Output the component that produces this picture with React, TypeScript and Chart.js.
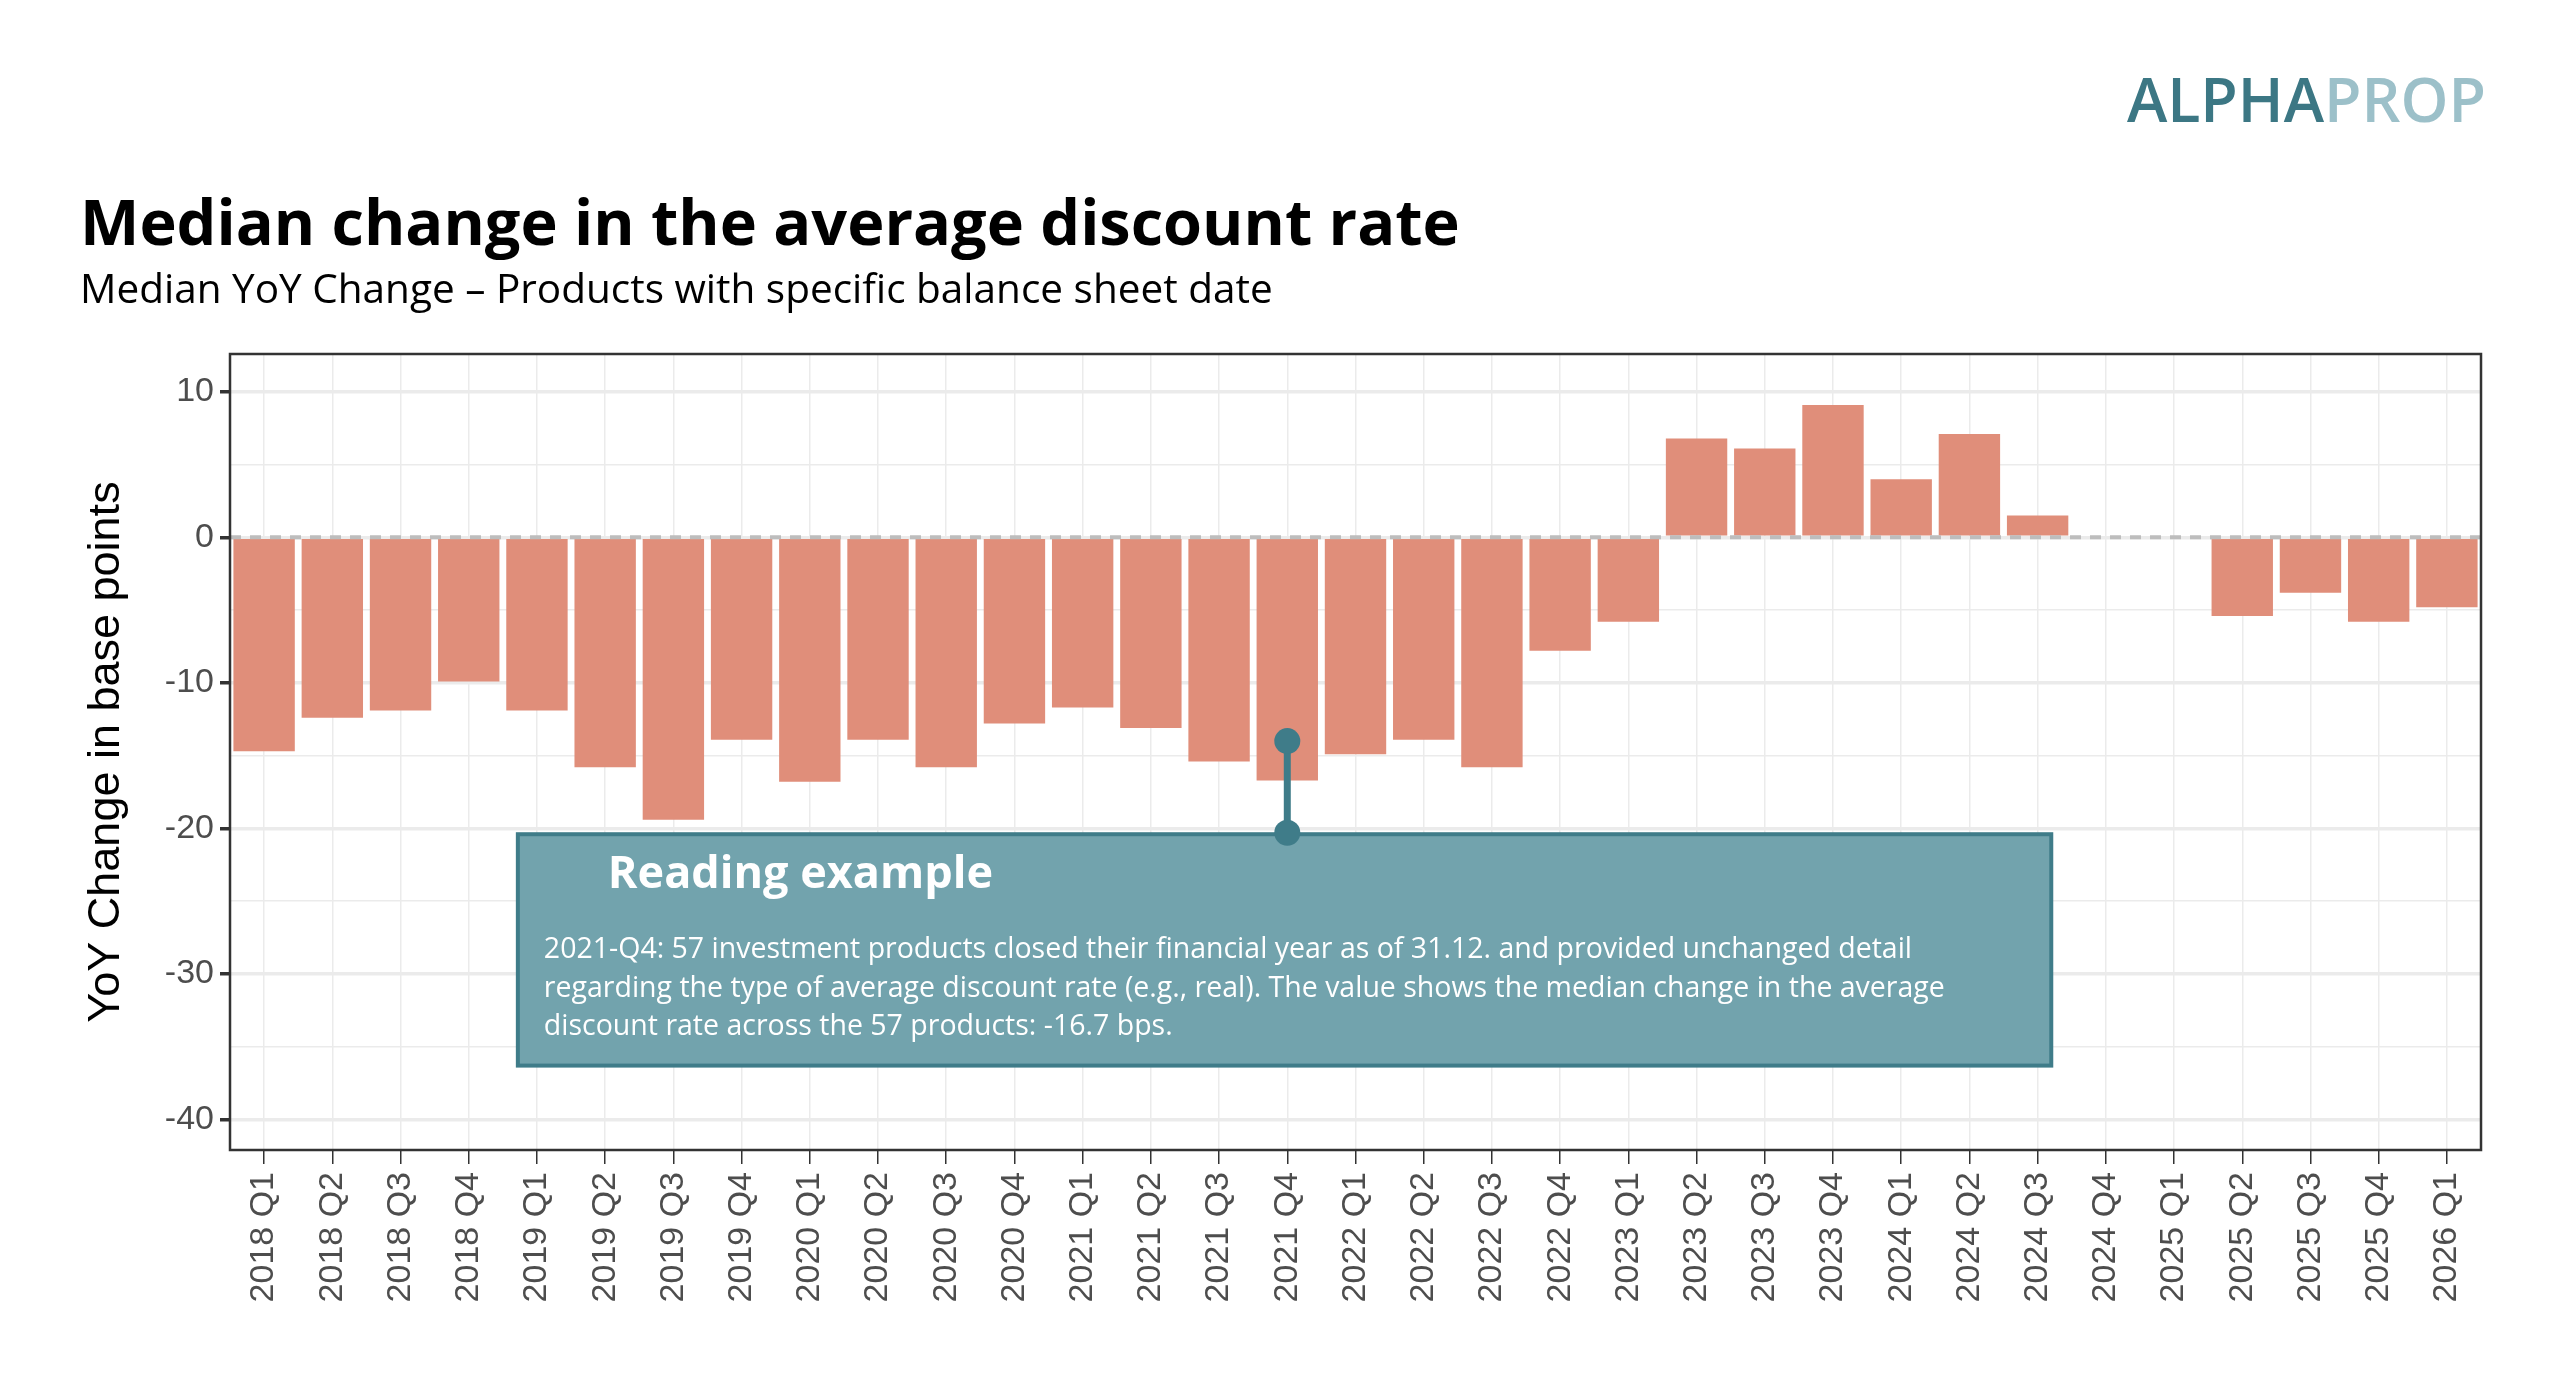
import React, { useEffect, useRef } from "react";
import { Chart, registerables } from "chart.js";
Chart.register(...registerables);

const categories = ["2018 Q1","2018 Q2","2018 Q3","2018 Q4","2019 Q1","2019 Q2","2019 Q3","2019 Q4","2020 Q1","2020 Q2","2020 Q3","2020 Q4","2021 Q1","2021 Q2","2021 Q3","2021 Q4","2022 Q1","2022 Q2","2022 Q3","2022 Q4","2023 Q1","2023 Q2","2023 Q3","2023 Q4","2024 Q1","2024 Q2","2024 Q3","2024 Q4","2025 Q1","2025 Q2","2025 Q3","2025 Q4","2026 Q1"];
const values: (number | null)[] = [-14.7,-12.4,-11.9,-9.9,-11.9,-15.8,-19.4,-13.9,-16.8,-13.9,-15.8,-12.8,-11.7,-13.1,-15.4,-16.7,-14.9,-13.9,-15.8,-7.8,-5.8,6.8,6.1,9.1,4.0,7.1,1.5,null,null,-5.4,-3.8,-5.8,-4.8];
const yTicks = [10, 0, -10, -20, -30, -40];
const titleText = "Median change in the average discount rate";
const subtitleText = "Median YoY Change \u2013 Products with specific balance sheet date";
const yTitle = "YoY Change in base points";
const exampleIndex = 15;
const exampleStem = [-14, -20.3];
const boxRange = { x0: 3.72, x1: 26.2, y0: -20.4, y1: -36.3 };
const boxTitle = "Reading example";
const boxLines = [
  "2021-Q4: 57 investment products closed their financial year as of 31.12. and provided unchanged detail",
  "regarding the type of average discount rate (e.g., real). The value shows the median change in the average",
  "discount rate across the 57 products: -16.7 bps.",
];

const overlay = {
  id: "overlay",
  afterDatasetsDraw(chart: any) {
    const { ctx, chartArea: a, scales } = chart;
    const x = scales.x, y = scales.y;
    ctx.save();
    const y0 = y.getPixelForValue(0);
    ctx.strokeStyle = "#bdbdbd"; ctx.lineWidth = 4; ctx.setLineDash([11, 9]);
    ctx.beginPath(); ctx.moveTo(a.left, y0); ctx.lineTo(a.right, y0); ctx.stroke();
    ctx.setLineDash([]);
    const bx0 = x.getPixelForValue(boxRange.x0), bx1 = x.getPixelForValue(boxRange.x1);
    const by0 = y.getPixelForValue(boxRange.y0), by1 = y.getPixelForValue(boxRange.y1);
    ctx.fillStyle = "#72a3ad"; ctx.fillRect(bx0, by0, bx1 - bx0, by1 - by0);
    ctx.strokeStyle = "#3f7c89"; ctx.lineWidth = 4; ctx.strokeRect(bx0, by0, bx1 - bx0, by1 - by0);
    ctx.fillStyle = "#ffffff"; ctx.textBaseline = "middle"; ctx.textAlign = "left";
    ctx.font = "bold 45px 'Open Sans'";
    ctx.fillText(boxTitle, bx0 + 90, by0 + 41);
    ctx.font = "28.5px 'Open Sans'";
    boxLines.forEach((l, i) => ctx.fillText(l, bx0 + 26, by0 + 116 + i * 38.5));
    const sx = x.getPixelForValue(exampleIndex);
    const s0 = y.getPixelForValue(exampleStem[0]), s1 = y.getPixelForValue(exampleStem[1]);
    ctx.strokeStyle = "#3f7c89"; ctx.lineWidth = 7;
    ctx.beginPath(); ctx.moveTo(sx, s0); ctx.lineTo(sx, s1); ctx.stroke();
    ctx.fillStyle = "#3f7c89";
    [s0, s1].forEach((p) => { ctx.beginPath(); ctx.arc(sx, p, 13, 0, Math.PI * 2); ctx.fill(); });
    ctx.strokeStyle = "#333333"; ctx.lineWidth = 2.5;
    ctx.strokeRect(a.left, a.top, a.right - a.left, a.bottom - a.top);
    ctx.fillStyle = "#000"; ctx.textBaseline = "alphabetic";
    ctx.font = "bold 63px 'Open Sans'"; ctx.fillText(titleText, 80, 245);
    ctx.font = "40.5px 'Open Sans'"; ctx.fillText(subtitleText, 80, 303);
    ctx.font = "600 61px 'Open Sans'";
    const w1 = ctx.measureText("ALPHA").width, w2 = ctx.measureText("PROP").width;
    const lx = 2486 - w1 - w2;
    ctx.fillStyle = "#3c7784"; ctx.fillText("ALPHA", lx, 122);
    ctx.fillStyle = "#9cc0c9"; ctx.fillText("PROP", lx + w1, 122);
    ctx.translate(107, (a.top + a.bottom) / 2); ctx.rotate(-Math.PI / 2);
    ctx.textAlign = "center"; ctx.textBaseline = "middle"; ctx.fillStyle = "#000";
    ctx.font = "45px 'Liberation Sans'"; ctx.fillText(yTitle, 0, 0);
    ctx.restore();
  },
};

export default function App() {
  const ref = useRef<HTMLCanvasElement>(null);
  useEffect(() => {
    document.body.style.margin = "0";
    const chart = new Chart(ref.current!, {
      type: "bar",
      data: { labels: categories, datasets: [{ data: values as any, backgroundColor: "#e08e7a", categoryPercentage: 1, barPercentage: 0.9 }] },
      options: {
        animation: false, responsive: false, devicePixelRatio: 1,
        layout: { padding: { left: 0, top: 354, right: 79, bottom: 0 } },
        plugins: { legend: { display: false }, tooltip: { enabled: false } },
        scales: {
          x: {
            offset: true,
            grid: { offset: false, color: "#ebebeb", lineWidth: 1.5, tickLength: 14, tickColor: "#333", drawTicks: true },
            border: { display: false },
            ticks: { minRotation: 90, maxRotation: 90, autoSkip: false, color: "#4d4d4d", font: { size: 34, family: "'Liberation Sans'" }, padding: 8 },
            afterFit: (s: any) => { s.height = 248; },
          },
          y: {
            min: -42.1, max: 12.6,
            afterBuildTicks: (s: any) => { s.ticks = [10, 5, 0, -5, -10, -15, -20, -25, -30, -35, -40].map((v) => ({ value: v })); },
            grid: {
              color: "#ebebeb",
              lineWidth: (c: any) => (c.tick && c.tick.value % 10 === 0 ? 3.5 : 1.5),
              tickColor: (c: any) => (c.tick && c.tick.value % 10 === 0 ? "#333" : "rgba(0,0,0,0)"),
              tickLength: 10,
            },
            border: { display: false },
            ticks: { color: "#4d4d4d", font: { size: 34, family: "'Liberation Sans'" }, padding: 6,
              callback: (v: any) => (yTicks.includes(Number(v)) ? String(v) : "") },
            afterFit: (s: any) => { s.width = 230; },
          },
        },
      },
      plugins: [overlay],
    });
    return () => chart.destroy();
  }, []);
  return <canvas ref={ref} width={2560} height={1398} style={{ display: "block" }} />;
}
